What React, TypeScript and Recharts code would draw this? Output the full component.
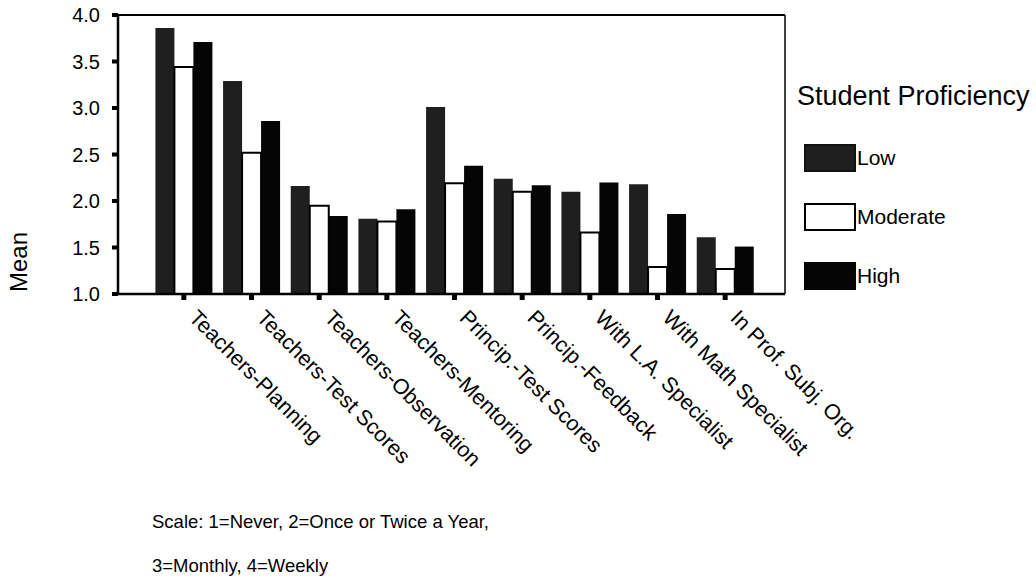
import { BarChart, Bar, XAxis, YAxis } from 'recharts';

const categories = [
  'Teachers-Planning',
  'Teachers-Test Scores',
  'Teachers-Observation',
  'Teachers-Mentoring',
  'Princip.-Test Scores',
  'Princip.-Feedback',
  'With L.A. Specialist',
  'With Math Specialist',
  'In Prof. Subj. Org.',
];
const low = [3.86, 3.29, 2.16, 1.81, 3.01, 2.24, 2.1, 2.18, 1.61];
const moderate = [3.44, 2.52, 1.95, 1.78, 2.19, 2.1, 1.66, 1.29, 1.27];
const high = [3.71, 2.86, 1.84, 1.91, 2.38, 2.17, 2.2, 1.86, 1.51];
const yTicks = [1, 1.5, 2, 2.5, 3, 3.5, 4];

const series = [
  { key: 'low', name: 'Low', fill: '#1f1f1f', stroke: '#111' },
  { key: 'moderate', name: 'Moderate', fill: '#ffffff', stroke: '#000' },
  { key: 'high', name: 'High', fill: '#050505', stroke: '#050505' },
];

const data = categories.map((name, i) => ({ name, low: low[i], moderate: moderate[i], high: high[i] }));

const FONT = '"Liberation Sans", Arial, Helvetica, sans-serif';

// rotated category labels, reading down to the right
const XTick = ({ x, y, payload }: any) => (
  <text
    x={x + 4}
    y={y + 17}
    transform={`rotate(45 ${x + 4} ${y + 17})`}
    fontFamily={FONT}
    fontSize={21.5}
    fill="#000"
    textAnchor="start"
  >
    {payload.value}
  </text>
);

const MeanLabel = ({ viewBox }: any) => {
  const cx = viewBox.x + 27;
  const cy = viewBox.y + viewBox.height - 32;
  return (
    <text x={cx} y={cy} transform={`rotate(-90 ${cx} ${cy})`} textAnchor="middle" fontFamily={FONT} fontSize={24} fill="#000">
      Mean
    </text>
  );
};

const LegendBox = () => (
  <div style={{ position: 'absolute', left: 797, top: 81, fontFamily: FONT, color: '#000' }}>
    <div style={{ fontSize: 27, marginBottom: 31, whiteSpace: 'nowrap' }}>Student Proficiency</div>
    {series.map((s) => (
      <div key={s.key} style={{ display: 'flex', alignItems: 'center', height: 29, marginBottom: 30, marginLeft: 7 }}>
        <div
          style={{
            width: 52,
            height: 28,
            boxSizing: 'border-box',
            background: s.fill,
            border: `2px solid ${s.stroke}`,
          }}
        />
        <span style={{ fontSize: 21, marginLeft: 1 }}>{s.name}</span>
      </div>
    ))}
  </div>
);

export default function App() {
  return (
    <div style={{ position: 'absolute', left: 0, top: 0, width: 1036, height: 581, background: '#fff' }}>
      <BarChart
        width={1036}
        height={581}
        data={data}
        margin={{ top: 14, right: 250, bottom: 257, left: 0 }}
        barGap={0}
        barCategoryGap="8%"
      >
        <XAxis
          dataKey="name"
          height={30}
          interval={0}
          padding={{ left: 32, right: 26 }}
          axisLine={{ stroke: '#000', strokeWidth: 2.5 }}
          tickLine={{ stroke: '#000', strokeWidth: 5 }}
          tickSize={6}
          tick={<XTick />}
        />
        <XAxis
          xAxisId="top"
          dataKey="name"
          orientation="top"
          height={1}
          padding={{ left: 32, right: 26 }}
          tick={false}
          tickLine={false}
          axisLine={{ stroke: '#000', strokeWidth: 2 }}
        />
        <YAxis
          width={118}
          domain={[1, 4]}
          ticks={yTicks}
          allowDataOverflow
          interval={0}
          tickFormatter={(v: number) => v.toFixed(1)}
          axisLine={{ stroke: '#000', strokeWidth: 2.5 }}
          tickLine={{ stroke: '#000', strokeWidth: 4 }}
          tickSize={6}
          tickMargin={12}
          tick={{ fontFamily: FONT, fontSize: 20, fill: '#000' }}
          label={<MeanLabel />}
        />
        <YAxis
          yAxisId="right"
          orientation="right"
          width={1}
          domain={[1, 4]}
          tick={false}
          tickLine={false}
          axisLine={{ stroke: '#000', strokeWidth: 1.5 }}
        />
        {series.map((s) => (
          <Bar
            key={s.key}
            dataKey={s.key}
            name={s.name}
            fill={s.fill}
            stroke={s.stroke}
            strokeWidth={s.key === 'moderate' ? 2 : 0}
            isAnimationActive={false}
          />
        ))}
      </BarChart>
      <LegendBox />
      <div style={{ position: 'absolute', left: 152, top: 500, fontFamily: FONT, fontSize: 18.5, color: '#000', lineHeight: '44px' }}>
        <div>Scale: 1=Never, 2=Once or Twice a Year,</div>
        <div>3=Monthly, 4=Weekly</div>
      </div>
    </div>
  );
}
